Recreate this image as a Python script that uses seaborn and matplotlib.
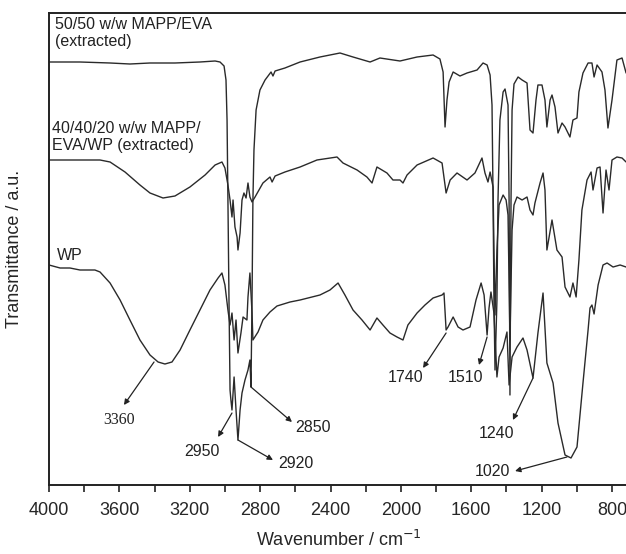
import matplotlib
matplotlib.use("Agg")
import matplotlib.pyplot as plt
import seaborn as sns
import pandas as pd
from matplotlib.ticker import MultipleLocator

# ---- data (wavenumber cm-1, transmittance a.u.) ----
wn_eva = [4000, 3824, 3653, 3540, 3426, 3284, 3142, 3056, 3028, 3005, 2994, 2988, 2983, 2977, 2971,
          2966, 2960, 2948, 2937, 2926, 2914, 2903, 2886, 2869, 2858, 2852, 2846, 2841, 2835, 2823,
          2801, 2772, 2738, 2727, 2715, 2659, 2573, 2460, 2346, 2272, 2175, 2119, 2005, 1908, 1817,
          1778, 1760, 1749, 1738, 1726, 1703, 1664, 1624, 1567, 1533, 1510, 1493, 1482, 1476, 1471,
          1465, 1454, 1448, 1437, 1419, 1408, 1391, 1385, 1380, 1374, 1368, 1357, 1334, 1311, 1283,
          1266, 1249, 1232, 1221, 1198, 1181, 1170, 1152, 1141, 1124, 1107, 1084, 1067, 1039, 1022,
          999, 988, 965, 936, 914, 902, 885, 857, 840, 823, 800, 772, 743, 720]
t_eva = [423, 423, 422, 421, 422, 422, 423, 424, 423, 419, 405, 365, 285, 185, 95,
         85, 75, 108, 75, 45, 75, 92, 105, 115, 125, 98, 185, 285, 335, 375,
         395, 405, 413, 409, 414, 417, 423, 428, 432, 428, 423, 427, 424, 428, 430,
         426, 413, 358, 385, 403, 413, 409, 412, 415, 422, 420, 410, 380, 285, 185,
         115, 185, 285, 365, 393, 396, 380, 285, 90, 285, 375, 401, 408, 405, 402,
         355, 352, 385, 400, 400, 385, 358, 385, 390, 378, 352, 362, 358, 348, 365,
         367, 393, 412, 422, 422, 408, 420, 413, 395, 357, 385, 425, 427, 412]

wn_mix = [4000, 3824, 3710, 3653, 3568, 3483, 3426, 3352, 3284, 3199, 3113, 3056, 3017, 3000, 2983,
          2971, 2960, 2954, 2943, 2931, 2926, 2914, 2903, 2892, 2880, 2869, 2858, 2846, 2829, 2784,
          2744, 2732, 2715, 2659, 2573, 2477, 2363, 2329, 2249, 2193, 2164, 2136, 2079, 2045, 2005,
          1988, 1965, 1908, 1817, 1766, 1743, 1720, 1681, 1624, 1579, 1539, 1522, 1505, 1493, 1476,
          1471, 1465, 1454, 1442, 1419, 1402, 1391, 1380, 1368, 1357, 1340, 1311, 1283, 1266, 1249,
          1238, 1209, 1192, 1181, 1170, 1141, 1113, 1084, 1067, 1039, 1022, 1004, 988, 971, 942,
          919, 908, 885, 868, 851, 834, 817, 800, 772, 743, 720]
t_mix = [325, 325, 325, 323, 313, 300, 292, 287, 289, 298, 310, 320, 323, 317, 300,
         285, 268, 285, 258, 248, 235, 252, 285, 292, 287, 302, 288, 283, 288, 302,
         308, 303, 309, 313, 318, 325, 328, 322, 315, 308, 302, 318, 312, 305, 305,
         302, 310, 320, 327, 322, 292, 305, 312, 305, 312, 327, 312, 303, 313, 298,
         235, 170, 235, 280, 290, 285, 270, 145, 255, 280, 288, 285, 288, 275, 270,
         282, 302, 312, 295, 235, 265, 235, 228, 198, 188, 202, 188, 225, 275, 305,
         313, 295, 317, 318, 272, 315, 295, 325, 328, 327, 323]

wn_wp = [4000, 3937, 3881, 3824, 3739, 3710, 3653, 3596, 3540, 3483, 3426, 3380, 3341, 3301, 3255,
         3199, 3142, 3085, 3039, 3017, 3000, 2983, 2971, 2960, 2948, 2937, 2926, 2909, 2897, 2875,
         2869, 2858, 2846, 2841, 2812, 2784, 2744, 2704, 2630, 2573, 2460, 2403, 2357, 2318, 2272,
         2221, 2175, 2136, 2102, 2062, 2022, 1988, 1960, 1908, 1863, 1817, 1766, 1755, 1743, 1732,
         1703, 1675, 1647, 1607, 1573, 1544, 1527, 1510, 1499, 1488, 1471, 1454, 1442, 1419, 1397,
         1385, 1368, 1340, 1306, 1283, 1249, 1221, 1192, 1170, 1135, 1107, 1067, 1033, 999, 965,
         936, 925, 914, 902, 879, 851, 828, 794, 754, 720]
t_wp = [220, 217, 217, 215, 215, 213, 202, 185, 165, 145, 130, 123, 121, 123, 135,
        155, 175, 195, 207, 212, 200, 175, 160, 172, 145, 165, 132, 152, 168, 165,
        188, 212, 172, 145, 153, 165, 173, 179, 183, 185, 190, 195, 202, 190, 175,
        165, 155, 167, 160, 152, 148, 145, 160, 172, 180, 187, 190, 192, 155, 158,
        168, 158, 155, 158, 185, 202, 190, 150, 177, 193, 172, 108, 128, 137, 153,
        100, 128, 138, 147, 135, 107, 152, 192, 122, 102, 62, 30, 27, 38, 102,
        155, 177, 180, 171, 200, 220, 222, 218, 220, 218]

series_labels = ["50/50 w/w MAPP/EVA\n(extracted)",
                 "40/40/20 w/w MAPP/\nEVA/WP (extracted)",
                 "WP"]

# peak annotations: label, (x, y) of band, (x, y) of text
peak_labels = ["3360", "2950", "2920", "2850", "1740", "1510", "1240", "1020"]
peak_xy = [(3403, 123), (2960, 72), (2926, 45), (2852, 98), (1743, 152), (1510, 148), (1249, 107), (1056, 28)]
text_xy = [(3602, 65), (3130, 33), (2596, 22), (2499, 57), (1976, 107), (1635, 107), (1454, 51), (1482, 13)]
arrow_end = [(3574, 80), (3039, 48), (2727, 25), (2619, 63), (1874, 117), (1556, 120), (1363, 65), (1351, 14)]

xticks_major = [4000, 3600, 3200, 2800, 2400, 2000, 1600, 1200, 800]

# ---- plotting ----
sns.set_style("white")
plt.rcParams["font.family"] = ["Liberation Sans", "DejaVu Sans"]

fig = plt.figure(figsize=(6.26, 5.54), dpi=100)
ax = fig.add_axes([49 / 626, 69 / 554, 580.6 / 626, 472 / 554])

frames = [pd.DataFrame({"wn": wn_eva, "T": t_eva}),
          pd.DataFrame({"wn": wn_mix, "T": t_mix}),
          pd.DataFrame({"wn": wn_wp, "T": t_wp})]
for df in frames:
    sns.lineplot(data=df, x="wn", y="T", ax=ax, sort=False, estimator=None,
                 color="#2a2a2a", linewidth=1.0)

ax.set_xlim(4000, 700)
ax.set_ylim(0, 472)
ax.set_xticks(xticks_major)
ax.xaxis.set_minor_locator(MultipleLocator(200))
ax.tick_params(axis="x", which="both", direction="out", bottom=True, top=False,
               length=5, width=1.2, color="#222222", labelsize=13, pad=7)
ax.tick_params(axis="y", left=False, labelleft=False)
for s in ["left", "top", "bottom"]:
    ax.spines[s].set_color("#222222")
    ax.spines[s].set_linewidth(1.4)
ax.spines["right"].set_visible(False)

ax.set_xlabel("Wavenumber / cm$^{-1}$", fontsize=13)
ax.xaxis.set_label_coords(0.5, -0.095)
ax.set_ylabel("Transmittance / a.u.", fontsize=13)
ax.yaxis.set_label_coords(-0.045, 0.5)

# series labels
ax.text(3966, 452, series_labels[0], fontsize=11.5, va="center", ha="left", linespacing=1.15,
        color="#222222")
ax.text(3983, 348, series_labels[1], fontsize=11.5, va="center", ha="left", linespacing=1.15,
        color="#222222")
ax.text(3954, 230, series_labels[2], fontsize=11.5, va="center", ha="left", color="#222222")

for lab, p, t, e in zip(peak_labels, peak_xy, text_xy, arrow_end):
    fam = ["Liberation Serif"] if lab == "3360" else ["Liberation Sans"]
    ax.annotate("", xy=e, xytext=p,
                arrowprops=dict(arrowstyle="-|>", color="#222222", lw=0.9,
                                mutation_scale=8, shrinkA=0, shrinkB=0))
    ax.text(t[0], t[1], lab, fontsize=11.5, ha="center", va="center", family=fam,
            color="#222222")

fig.savefig("out.png", dpi=100)
